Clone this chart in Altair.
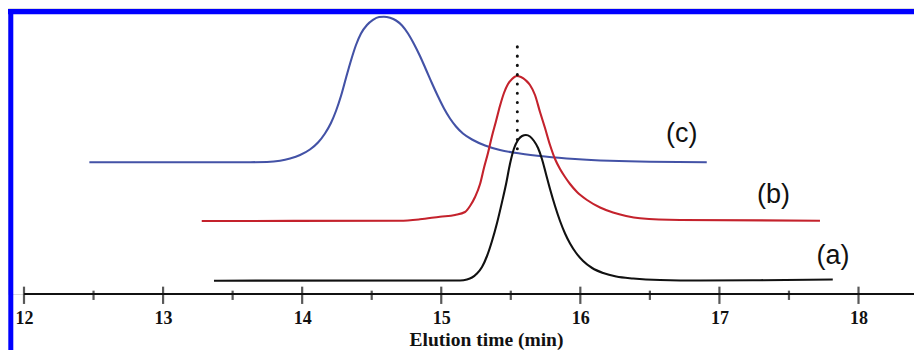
import altair as alt
import pandas as pd

# ---- scale extents (elution time in min, detector level in arbitrary units) ----
X_MIN, X_MAX = 11.885, 18.399
Y_MAX = 286

# ---- trace (c) blue ----
time_c = [12.470, 13.625, 13.747, 13.841, 13.913, 13.985, 14.056, 14.114, 14.164, 14.207,
          14.243, 14.279, 14.315, 14.351, 14.387, 14.423, 14.466, 14.509, 14.553, 14.588,
          14.632, 14.675, 14.718, 14.761, 14.804, 14.847, 14.890, 14.934, 14.977, 15.020,
          15.063, 15.106, 15.156, 15.228, 15.315, 15.422, 15.566, 15.746, 15.962, 16.213,
          16.501, 16.909]
level_c = [131.7, 131.8, 132.0, 133.2, 135.5, 139.0, 144.5, 151.5, 160.5, 171.0,
           183.0, 198.0, 216.0, 233.5, 249.0, 260.5, 269.0, 274.2, 277.0, 277.3,
           276.2, 273.5, 268.5, 260.5, 250.0, 238.0, 224.5, 210.5, 197.5, 185.5,
           175.5, 167.5, 160.5, 154.0, 148.5, 144.0, 140.5, 137.5, 135.0, 133.2,
           132.2, 131.8]

# ---- trace (b) red ----
time_b = [13.278, 14.703, 14.847, 14.991, 15.099, 15.171, 15.207, 15.243, 15.279, 15.307,
          15.336, 15.365, 15.394, 15.422, 15.451, 15.480, 15.509, 15.543, 15.573, 15.609,
          15.638, 15.674, 15.710, 15.746, 15.782, 15.818, 15.854, 15.890, 15.926, 15.976,
          16.048, 16.142, 16.235, 16.329, 16.429, 16.717, 17.723]
level_b = [73.0, 73.3, 74.7, 77.3, 79.0, 82.0, 88.0, 97.0, 110.0, 126.0,
           141.0, 158.0, 173.0, 188.0, 201.0, 210.0, 215.0, 218.0, 217.0, 213.5,
           209.0, 199.0, 182.0, 166.0, 149.0, 135.0, 125.0, 117.0, 110.0, 102.0,
           94.0, 86.5, 81.5, 78.0, 75.7, 74.0, 73.3]

# ---- trace (a) black ----
time_a = [13.366, 15.135, 15.185, 15.221, 15.257, 15.293, 15.329, 15.365, 15.401, 15.437,
          15.466, 15.494, 15.523, 15.552, 15.581, 15.609, 15.638, 15.667, 15.696, 15.724,
          15.753, 15.782, 15.818, 15.854, 15.890, 15.926, 15.970, 16.020, 16.085, 16.164,
          16.258, 16.380, 16.574, 16.861, 17.292, 17.815]
level_a = [13.3, 13.5, 14.5, 16.5, 20.5, 27.0, 38.0, 53.0, 71.0, 92.0,
           110.0, 130.0, 145.5, 154.0, 158.0, 159.0, 157.5, 153.0, 146.0, 135.0,
           120.0, 105.0, 88.0, 73.0, 60.5, 50.5, 41.0, 33.0, 26.0, 21.0,
           17.5, 15.5, 14.0, 13.5, 13.8, 14.5]

# ---- peak marker (dotted) ----
marker_time = 15.547
marker_top, marker_bottom = 247.2, 142.5

# ---- trace labels ----
label_text = ["(c)", "(b)", "(a)"]
label_time = [16.729, 17.388, 17.817]
label_level = [152, 91, 30]

# ---- axis ----
major_ticks = [12, 13, 14, 15, 16, 17, 18]
minor_ticks = [12.5, 13.5, 14.5, 15.5, 16.5, 17.5]
axis_title = "Elution time (min)"

series_names = ["c", "b", "a"]
series_colors = ["#4352A6", "#C4222C", "#111111"]

rows = []
for name, ts, ls in zip(series_names, [time_c, time_b, time_a], [level_c, level_b, level_a]):
    for t, l in zip(ts, ls):
        rows.append({"series": name, "time": t, "level": l})
df = pd.DataFrame(rows)

xs = alt.Scale(domain=[X_MIN, X_MAX], nice=False, zero=False)
ys = alt.Scale(domain=[0, Y_MAX], nice=False, zero=False)

lines = alt.Chart(df).mark_line(strokeWidth=2.1, interpolate="monotone").encode(
    x=alt.X("time:Q", scale=xs, axis=alt.Axis(
        title=axis_title, values=major_ticks, format="d", grid=False, domain=False,
        ticks=False, tickSize=0, labelFont="Liberation Serif", labelFontWeight="bold",
        labelFontSize=18, labelColor="#111", labelBaseline="alphabetic", labelPadding=29.5,
        labelFlush=False, titleFont="Liberation Serif", titleFontWeight="bold",
        titleFontSize=19.5, titleColor="#111", titleX=478, titleY=51,
        titleBaseline="alphabetic", titleAlign="center")),
    y=alt.Y("level:Q", scale=ys, axis=None),
    color=alt.Color("series:N", scale=alt.Scale(domain=series_names, range=series_colors),
                    legend=None),
    order=alt.Order("time:Q"),
)

axis_line = alt.Chart(pd.DataFrame({"x": [major_ticks[0]], "x2": [X_MAX], "y": [0]})).mark_rule(
    color="#111", strokeWidth=2.2).encode(
    x=alt.X("x:Q", scale=xs), x2="x2:Q", y=alt.Y("y:Q", scale=ys))

major = alt.Chart(pd.DataFrame({"t": major_ticks})).mark_tick(
    color="#111", thickness=2.2, size=17.3).encode(
    x=alt.X("t:Q", scale=xs), y=alt.value(287.3))

minor = alt.Chart(pd.DataFrame({"t": minor_ticks})).mark_tick(
    color="#111", thickness=2.2, size=9.3).encode(
    x=alt.X("t:Q", scale=xs), y=alt.value(287.3))

marker = alt.Chart(pd.DataFrame({"t": [marker_time], "y": [marker_top], "y2": [marker_bottom]})).mark_rule(
    color="#111", strokeWidth=3, strokeDash=[0.1, 9.17], strokeCap="round").encode(
    x=alt.X("t:Q", scale=xs), y=alt.Y("y:Q", scale=ys), y2="y2:Q")

labels = alt.Chart(pd.DataFrame({"text": label_text, "t": label_time, "y": label_level})).mark_text(
    font="Liberation Sans", fontSize=27, align="center", baseline="alphabetic", color="#111").encode(
    x=alt.X("t:Q", scale=xs), y=alt.Y("y:Q", scale=ys), text="text:N")

frame_top = alt.Chart(pd.DataFrame({"k": [0]})).mark_rule(color="#0000FF", strokeWidth=5.3).encode(
    x=alt.value(0), x2=alt.value(906), y=alt.value(3.7))
frame_left = alt.Chart(pd.DataFrame({"k": [0]})).mark_rule(color="#0000FF", strokeWidth=5).encode(
    x=alt.value(2.8), y=alt.value(1), y2=alt.value(342))

chart = alt.layer(lines, axis_line, major, minor, marker, labels, frame_top, frame_left).properties(
    width=906, height=286,
    autosize=alt.AutoSizeParams(type="none"),
    padding={"left": 0, "top": 0, "right": 0, "bottom": 56},
).configure_view(stroke=None).configure(background="white")

chart.save("out.html", embed_options={"renderer": "svg", "actions": False})
